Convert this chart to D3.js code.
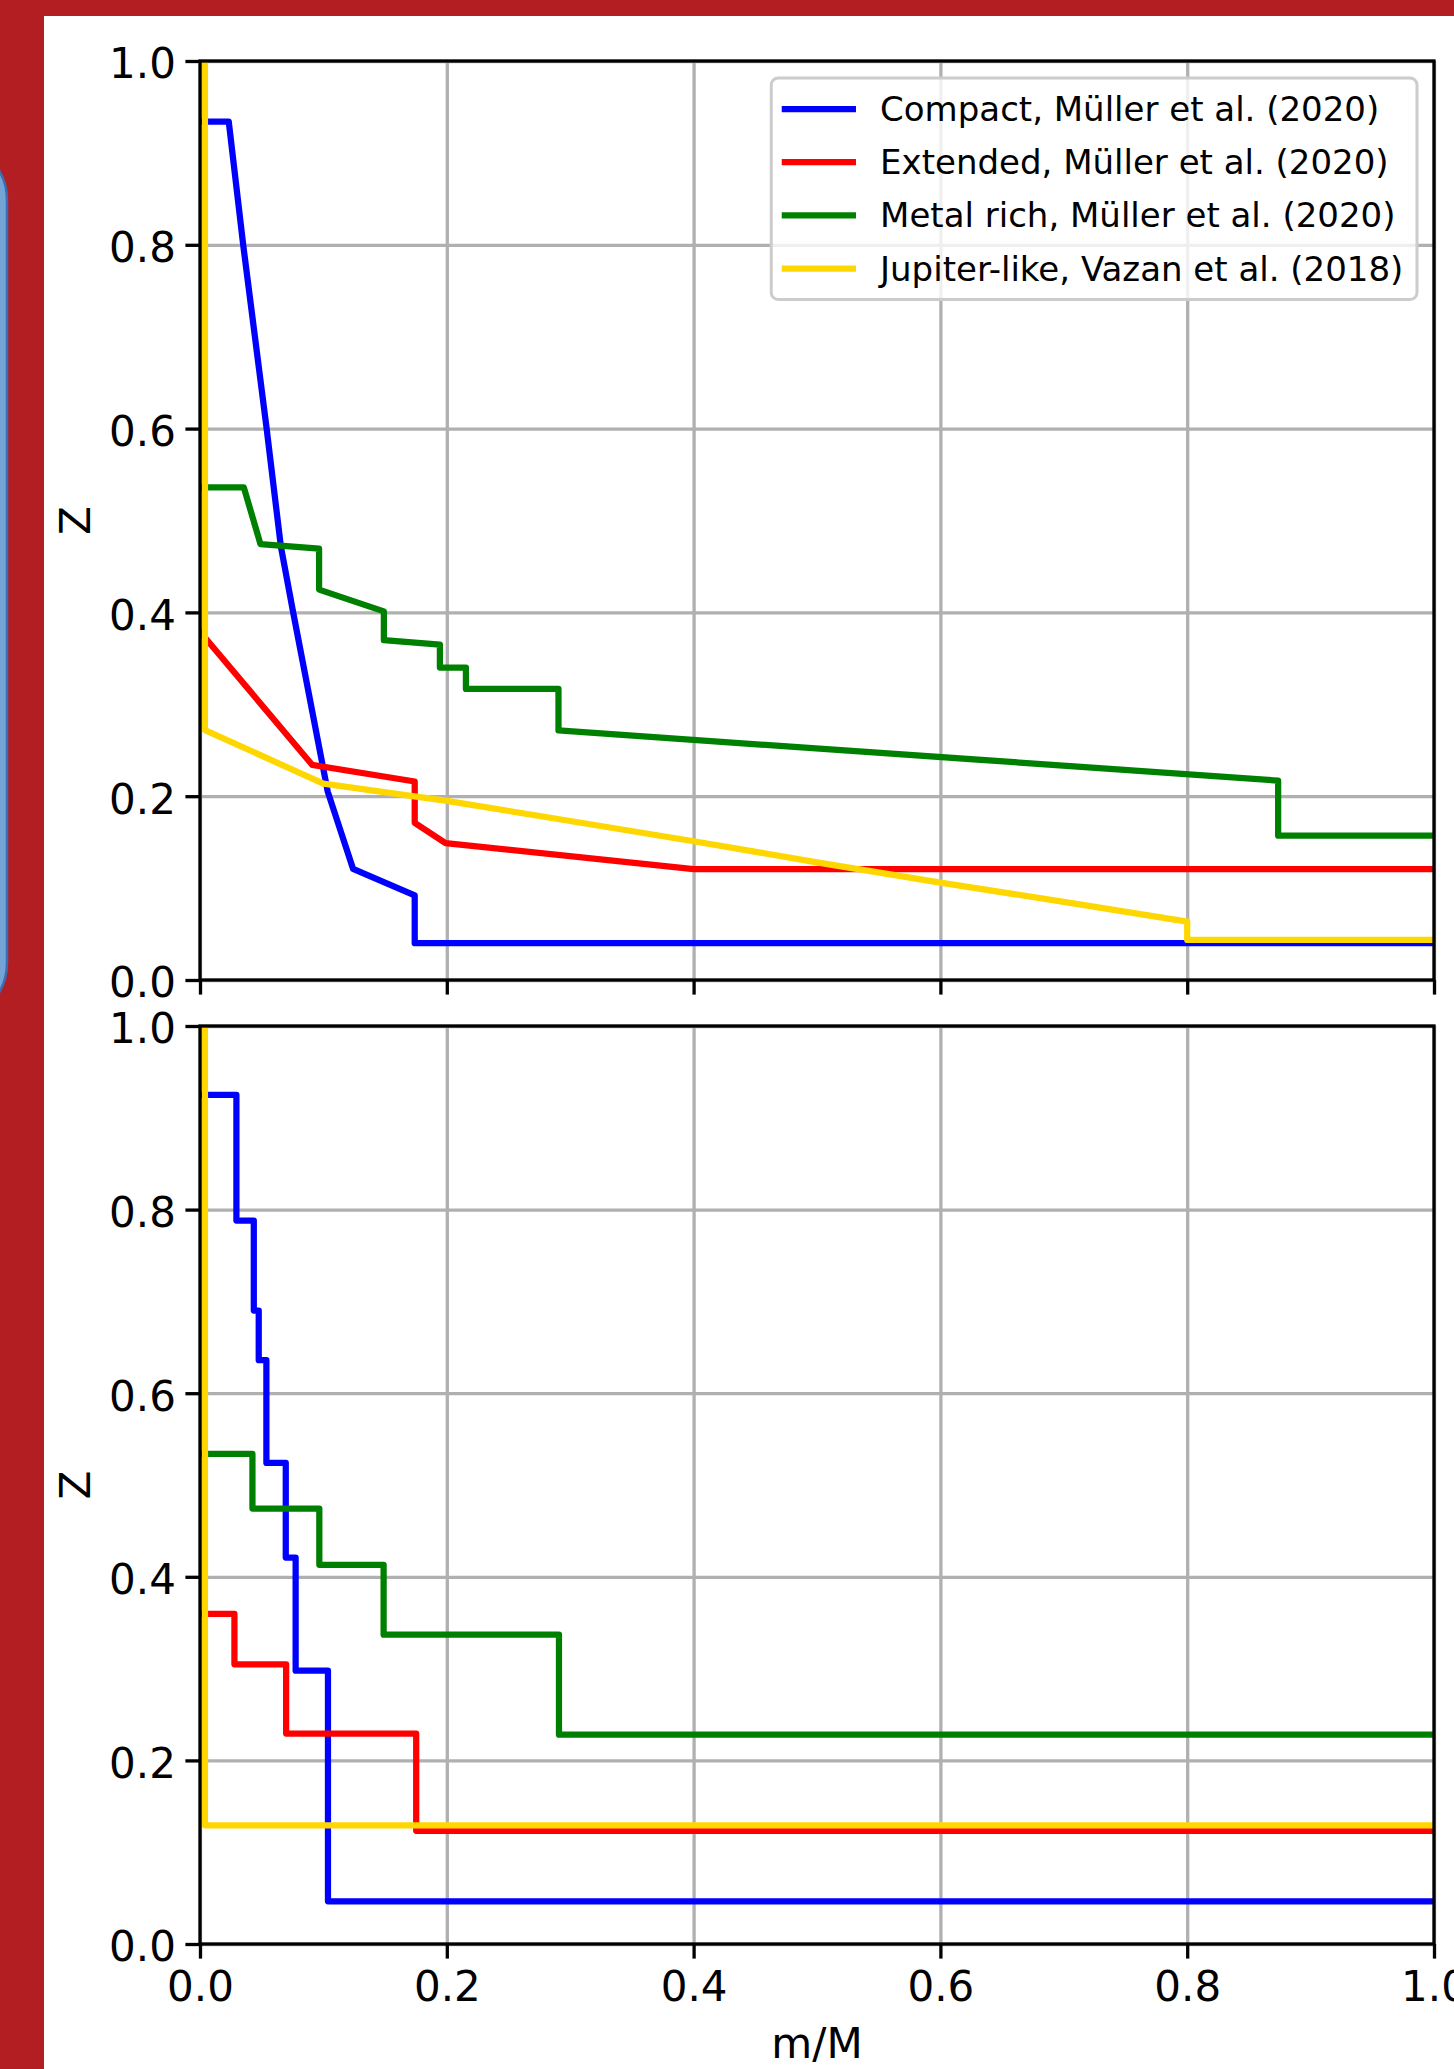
<!DOCTYPE html>
<html>
<head>
<meta charset="utf-8">
<script src="https://cdn.jsdelivr.net/npm/d3@7"></script>
<style>
body { margin: 0; background: #b31e23; }
svg { display: block; }
</style>
</head>
<body>
<div id="chart"></div>
<script>
var seriesNames = [
  "Compact, Müller et al. (2020)",
  "Extended, Müller et al. (2020)",
  "Metal rich, Müller et al. (2020)",
  "Jupiter-like, Vazan et al. (2018)"
];
var seriesColors = ["#0000ff", "#ff0000", "#008000", "#ffd700"];
var tickValues = [0, 0.2, 0.4, 0.6, 0.8, 1.0];

// top panel: piecewise linear profiles (m/M, Z)
var compactTopM  = [0, 0.0233, 0.035, 0.054, 0.0655, 0.0755, 0.1035, 0.124, 0.174, 0.174, 1.0];
var compactTopZ  = [0.934, 0.934, 0.80, 0.60, 0.472, 0.40, 0.205, 0.121, 0.092, 0.040, 0.040];
var extendedTopM = [0, 0.091, 0.174, 0.174, 0.199, 0.40, 1.0];
var extendedTopZ = [0.379, 0.234, 0.216, 0.171, 0.149, 0.1206, 0.1206];
var metalTopM    = [0, 0.0355, 0.049, 0.0965, 0.0965, 0.149, 0.149, 0.1944, 0.1944, 0.2155, 0.2155, 0.2905, 0.2905, 0.8737, 0.8737, 1.0];
var metalTopZ    = [0.536, 0.536, 0.4744, 0.4695, 0.4248, 0.4011, 0.3698, 0.365, 0.340, 0.340, 0.3167, 0.3167, 0.2715, 0.217, 0.157, 0.157];
var jupiterTopM  = [0.004, 0.004, 0.1, 0.2, 0.3, 0.4, 0.5, 0.6, 0.7, 0.8, 0.8, 1.0];
var jupiterTopZ  = [1.0, 0.272, 0.2136, 0.195, 0.173, 0.151, 0.128, 0.106, 0.085, 0.0635, 0.0436, 0.0436];

// bottom panel: step profiles, Z holds from each m/M up to the next one
var compactBotM  = [0, 0.0295, 0.0436, 0.0476, 0.0538, 0.0695, 0.0775, 0.1037, 1.0];
var compactBotZ  = [0.925, 0.788, 0.690, 0.636, 0.524, 0.421, 0.2977, 0.0465, 0.0465];
var extendedBotM = [0, 0.0279, 0.0698, 0.1752, 1.0];
var extendedBotZ = [0.3595, 0.3047, 0.2293, 0.1233, 0.1233];
var metalBotM    = [0, 0.0425, 0.0967, 0.1488, 0.2909, 1.0];
var metalBotZ    = [0.534, 0.4744, 0.413, 0.337, 0.228, 0.228];
var jupiterBotM  = [0.004, 0.004, 1.0];
var jupiterBotZ  = [1.0, 0.1293, 0.1293];

var width = 1454, height = 2069;
var left = 200, right = 1434;
var lw = 6.25, thin = 3.3, tickLen = 14.6;

var panels = [
  { top: 61, bottom: 980, curve: d3.curveLinear, labels: false, legend: true,
    series: [[compactTopM, compactTopZ], [extendedTopM, extendedTopZ], [metalTopM, metalTopZ], [jupiterTopM, jupiterTopZ]] },
  { top: 1026, bottom: 1944, curve: d3.curveStepAfter, labels: true, legend: false,
    series: [[compactBotM, compactBotZ], [extendedBotM, extendedBotZ], [metalBotM, metalBotZ], [jupiterBotM, jupiterBotZ]] }
];

var svg = d3.select("#chart").append("svg")
    .attr("width", width)
    .attr("height", height)
    .style("font-family", "'DejaVu Sans', sans-serif");

svg.append("rect").attr("width", width).attr("height", height).attr("fill", "#b31e23");
svg.append("rect")
    .attr("x", -200).attr("y", 142).attr("width", 207).attr("height", 879).attr("rx", 58)
    .attr("fill", "#74a3d6").attr("stroke", "#3b6db5").attr("stroke-width", 2.5);
svg.append("rect").attr("x", 44).attr("y", 16).attr("width", width - 44).attr("height", height - 16).attr("fill", "#fff");

var x = d3.scaleLinear().domain([0, 1]).range([left, right]);
var fmt = d3.format(".1f");

panels.forEach(function (p, i) {
  var y = d3.scaleLinear().domain([0, 1]).range([p.bottom, p.top]);
  var g = svg.append("g");

  // grid
  g.append("g")
      .attr("transform", "translate(0," + p.bottom + ")")
      .call(d3.axisBottom(x).tickValues(tickValues).tickSize(-(p.bottom - p.top)).tickFormat(""))
      .call(function (a) {
        a.select(".domain").remove();
        a.selectAll("line").attr("stroke", "#b0b0b0").attr("stroke-width", thin);
      });
  g.append("g")
      .attr("transform", "translate(" + left + ",0)")
      .call(d3.axisLeft(y).tickValues(tickValues).tickSize(-(right - left)).tickFormat(""))
      .call(function (a) {
        a.select(".domain").remove();
        a.selectAll("line").attr("stroke", "#b0b0b0").attr("stroke-width", thin);
      });

  svg.append("clipPath").attr("id", "clip" + i)
    .append("rect").attr("x", left).attr("y", p.top).attr("width", right - left).attr("height", p.bottom - p.top);

  var line = d3.line()
      .curve(p.curve)
      .x(function (d) { return x(d[0]); })
      .y(function (d) { return y(d[1]); });

  g.append("g").attr("clip-path", "url(#clip" + i + ")")
    .selectAll("path")
    .data(p.series)
    .enter().append("path")
      .attr("d", function (s) { return line(d3.zip(s[0], s[1])); })
      .attr("fill", "none")
      .attr("stroke", function (s, j) { return seriesColors[j]; })
      .attr("stroke-width", lw)
      .attr("stroke-linejoin", "round")
      .attr("stroke-linecap", "square");

  // spines
  g.append("rect")
      .attr("x", left).attr("y", p.top).attr("width", right - left).attr("height", p.bottom - p.top)
      .attr("fill", "none").attr("stroke", "#000").attr("stroke-width", thin);

  // ticks
  var xa = g.append("g")
      .attr("transform", "translate(0," + p.bottom + ")")
      .call(d3.axisBottom(x).tickValues(tickValues).tickSize(tickLen).tickPadding(13)
        .tickFormat(p.labels ? fmt : ""));
  var ya = g.append("g")
      .attr("transform", "translate(" + left + ",0)")
      .call(d3.axisLeft(y).tickValues(tickValues).tickSize(tickLen).tickPadding(9.5).tickFormat(fmt));
  [xa, ya].forEach(function (a) {
    a.select(".domain").remove();
    a.attr("font-family", null).attr("font-size", 42).style("color", "#000");
    a.selectAll("line").attr("stroke-width", thin);
  });
  ya.selectAll("text").attr("dy", "0.4em");

  g.append("text")
      .attr("transform", "translate(89.5," + ((p.top + p.bottom) / 2) + ") rotate(-90)")
      .attr("text-anchor", "middle")
      .attr("font-size", 42)
      .text("Z");

  if (p.legend) {
    var fs = 34, pad = 0.4 * fs, handleLen = 2 * fs, textPad = 0.8 * fs;
    var boxRight = right - 17, boxTop = p.top + 17, rowGap = 53.2, firstRow = 31;
    var lg = g.append("g");
    var frame = lg.append("rect");
    var texts = lg.selectAll("text")
      .data(seriesNames)
      .enter().append("text")
        .attr("font-size", fs)
        .attr("dy", "0.35em")
        .attr("y", function (d, j) { return boxTop + firstRow + j * rowGap; })
        .text(function (d) { return d; });
    var maxW = d3.max(texts.nodes(), function (n) { return n.getComputedTextLength(); });
    var boxW = pad * 2 + handleLen + textPad + maxW;
    var boxLeft = boxRight - boxW;
    texts.attr("x", boxLeft + pad + handleLen + textPad);
    frame.attr("x", boxLeft).attr("y", boxTop)
        .attr("width", boxW).attr("height", firstRow * 2 + rowGap * 3)
        .attr("rx", 7)
        .attr("fill", "#fff").attr("fill-opacity", 0.8)
        .attr("stroke", "#cccccc").attr("stroke-width", 3);
    lg.selectAll("line")
      .data(seriesColors)
      .enter().append("line")
        .attr("x1", boxLeft + pad).attr("x2", boxLeft + pad + handleLen)
        .attr("y1", function (d, j) { return boxTop + firstRow + j * rowGap; })
        .attr("y2", function (d, j) { return boxTop + firstRow + j * rowGap; })
        .attr("stroke", function (d) { return d; })
        .attr("stroke-width", lw)
        .attr("stroke-linecap", "square");
  }
});

svg.append("text")
    .attr("x", (left + right) / 2)
    .attr("y", 2058)
    .attr("text-anchor", "middle")
    .attr("font-size", 42)
    .text("m/M");
</script>
</body>
</html>
